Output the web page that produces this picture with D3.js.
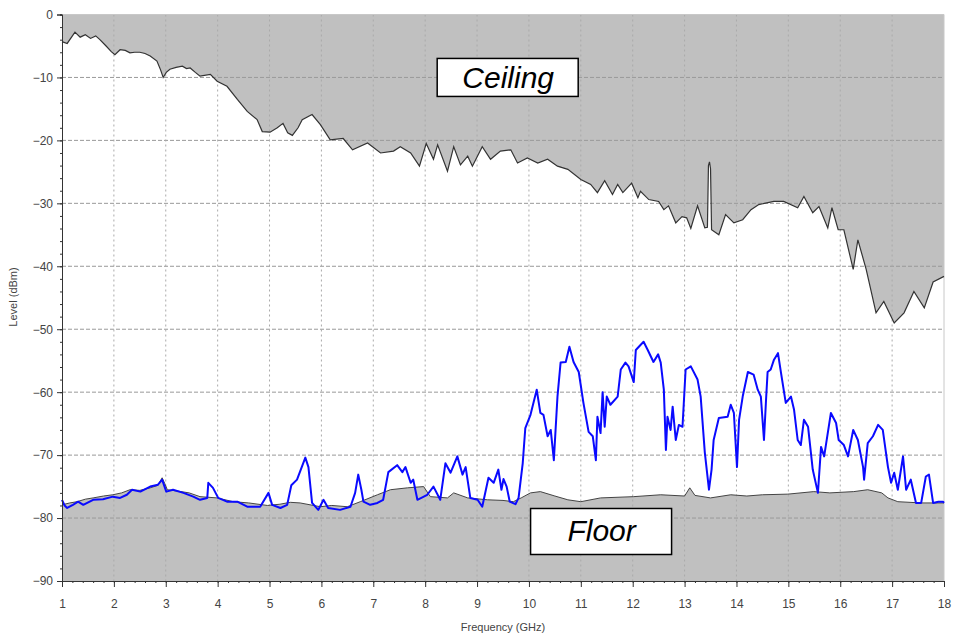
<!DOCTYPE html>
<html>
<head>
<meta charset="utf-8">
<script src="https://cdn.jsdelivr.net/npm/d3@7"></script>
<style>
  body { margin: 0; background: #fff; }
  svg { display: block; font-family: "Liberation Sans", Arial, sans-serif; }
</style>
</head>
<body>
<svg id="chart" width="954" height="636"></svg>
<script>
// spectrum traces: [frequency GHz, level dBm]
var ceiling = [
  [1.00,-4.3],[1.10,-4.6],[1.25,-2.8],[1.35,-3.6],[1.45,-3.2],[1.55,-3.8],[1.65,-3.4],[1.73,-4.0],
  [1.85,-5.0],[1.95,-5.9],[2.02,-6.4],[2.12,-5.6],[2.22,-5.7],[2.31,-6.1],[2.40,-6.0],[2.50,-6.0],
  [2.60,-6.2],[2.70,-6.6],[2.83,-7.4],[2.90,-8.8],[2.95,-10.0],[3.01,-9.2],[3.08,-8.7],[3.20,-8.4],
  [3.32,-8.2],[3.40,-8.6],[3.47,-8.5],[3.57,-9.2],[3.66,-9.8],[3.86,-9.5],[3.99,-10.6],[4.18,-11.4],
  [4.38,-13.5],[4.57,-15.4],[4.76,-16.7],[4.86,-18.6],[5.01,-18.7],[5.15,-18.0],[5.26,-17.3],[5.35,-18.8],
  [5.44,-19.2],[5.55,-18.0],[5.63,-16.7],[5.82,-15.9],[5.98,-17.5],[6.17,-19.9],[6.42,-19.7],[6.60,-21.5],
  [6.89,-20.4],[7.14,-22.0],[7.39,-21.7],[7.52,-21.0],[7.72,-22.0],[7.89,-24.1],[8.02,-20.5],[8.16,-23.0],
  [8.24,-20.7],[8.43,-24.9],[8.55,-21.0],[8.68,-23.9],[8.82,-22.5],[8.91,-24.1],[9.10,-21.0],[9.26,-23.0],
  [9.45,-21.7],[9.65,-21.5],[9.78,-23.6],[9.97,-22.8],[10.17,-23.6],[10.36,-23.0],[10.55,-24.1],[10.75,-24.6],
  [11.00,-26.2],[11.19,-27.0],[11.32,-28.3],[11.46,-26.4],[11.61,-28.6],[11.71,-27.0],[11.81,-28.3],[11.98,-26.8],
  [12.10,-29.1],[12.15,-28.1],[12.31,-29.4],[12.50,-29.7],[12.60,-31.0],[12.69,-30.4],[12.83,-33.1],[12.95,-32.1],
  [13.04,-32.3],[13.12,-34.0],[13.25,-30.4],[13.39,-33.9],[13.44,-33.8],[13.46,-24.0],[13.48,-23.4],[13.50,-24.5],
  [13.52,-34.2],[13.66,-35.0],[13.79,-31.8],[13.95,-33.1],[14.12,-32.6],[14.28,-31.0],[14.43,-30.2],[14.72,-29.7],
  [14.91,-29.7],[15.18,-30.7],[15.30,-28.9],[15.47,-31.5],[15.59,-30.5],[15.76,-33.9],[15.84,-30.7],[15.96,-34.2],
  [16.07,-34.2],[16.25,-40.5],[16.34,-35.8],[16.50,-40.5],[16.69,-47.4],[16.84,-45.6],[17.04,-49.0],[17.23,-47.4],
  [17.42,-44.0],[17.62,-46.6],[17.79,-42.5],[18.00,-41.6]
];

var floor = [
  [1.00,-77.9],[1.15,-77.6],[1.29,-77.4],[1.45,-77.0],[1.60,-76.8],[1.80,-76.5],[1.98,-76.3],[2.15,-76.0],
  [2.31,-75.5],[2.50,-75.6],[2.70,-75.2],[2.85,-74.8],[2.93,-73.6],[2.98,-74.5],[3.03,-75.5],[3.22,-75.7],
  [3.45,-76.0],[3.66,-76.6],[3.99,-76.8],[4.30,-77.4],[4.60,-77.6],[4.96,-78.0],[5.20,-77.8],[5.40,-77.5],
  [5.59,-77.6],[5.98,-78.2],[6.20,-78.0],[6.50,-78.2],[6.75,-77.4],[7.08,-76.3],[7.33,-75.5],[7.66,-75.2],
  [7.97,-75.0],[8.10,-76.6],[8.43,-76.8],[8.55,-76.0],[8.82,-76.8],[9.20,-77.1],[9.50,-77.2],[9.70,-77.4],
  [9.85,-76.8],[10.03,-76.0],[10.22,-75.8],[10.50,-76.5],[10.75,-77.1],[11.00,-77.4],[11.38,-76.8],[12.02,-76.6],
  [12.54,-76.3],[13.00,-76.5],[13.10,-75.2],[13.20,-76.4],[13.50,-76.8],[13.89,-76.3],[14.20,-76.5],[14.50,-76.3],
  [14.99,-76.2],[15.49,-75.8],[15.80,-76.0],[16.26,-75.8],[16.53,-75.5],[16.80,-76.0],[16.92,-76.8],[17.11,-77.4],
  [17.56,-77.6],[18.00,-77.6]
];

var measured = [
  [1.00,-77.1],[1.05,-78.0],[1.10,-78.4],[1.21,-77.9],[1.31,-77.4],[1.41,-77.9],[1.60,-77.1],[1.79,-77.0],
  [1.98,-76.6],[2.12,-76.8],[2.25,-76.3],[2.35,-75.5],[2.51,-75.8],[2.70,-75.0],[2.85,-74.7],[2.93,-73.9],
  [3.01,-75.8],[3.14,-75.5],[3.34,-76.0],[3.53,-76.6],[3.66,-77.1],[3.80,-76.8],[3.82,-74.4],[3.91,-75.2],
  [4.01,-76.8],[4.18,-77.4],[4.38,-77.4],[4.57,-78.2],[4.82,-78.2],[4.98,-76.0],[5.05,-77.9],[5.21,-78.4],
  [5.34,-77.9],[5.42,-74.8],[5.53,-73.9],[5.69,-70.4],[5.75,-71.9],[5.82,-77.6],[5.94,-78.7],[6.04,-77.1],
  [6.13,-78.4],[6.36,-78.7],[6.56,-78.2],[6.65,-76.0],[6.71,-73.1],[6.77,-75.5],[6.81,-77.4],[6.94,-77.9],
  [7.08,-77.6],[7.19,-77.1],[7.29,-72.7],[7.46,-71.6],[7.56,-72.7],[7.62,-71.9],[7.72,-74.4],[7.77,-73.9],
  [7.85,-77.1],[8.04,-76.3],[8.16,-75.0],[8.29,-77.1],[8.39,-71.3],[8.49,-72.8],[8.62,-70.2],[8.72,-73.1],
  [8.78,-71.9],[8.87,-76.8],[9.01,-77.1],[9.10,-78.2],[9.22,-73.6],[9.32,-74.4],[9.41,-72.3],[9.47,-75.5],
  [9.51,-73.8],[9.57,-75.0],[9.63,-77.4],[9.74,-77.8],[9.80,-76.8],[9.88,-71.3],[9.93,-65.7],[10.03,-63.6],
  [10.15,-59.6],[10.22,-63.3],[10.28,-63.6],[10.36,-67.0],[10.42,-66.0],[10.48,-70.8],[10.55,-60.7],[10.61,-55.3],
  [10.71,-55.2],[10.78,-52.8],[10.86,-55.2],[10.96,-56.8],[11.05,-61.7],[11.15,-66.3],[11.23,-67.0],[11.29,-70.8],
  [11.32,-63.9],[11.38,-66.5],[11.42,-60.0],[11.46,-65.5],[11.50,-60.7],[11.57,-62.0],[11.71,-60.7],[11.77,-56.4],
  [11.86,-55.3],[11.92,-55.9],[12.02,-58.4],[12.06,-53.3],[12.15,-52.5],[12.21,-52.0],[12.29,-53.3],[12.40,-55.2],
  [12.49,-54.0],[12.54,-55.3],[12.60,-59.6],[12.64,-69.2],[12.67,-63.9],[12.73,-66.0],[12.77,-62.3],[12.83,-67.6],
  [12.89,-65.2],[12.96,-65.5],[13.02,-56.4],[13.12,-55.9],[13.25,-58.0],[13.31,-60.7],[13.39,-69.6],[13.47,-75.5],
  [13.52,-72.3],[13.56,-67.6],[13.66,-64.1],[13.83,-63.9],[13.89,-62.0],[13.95,-63.3],[14.01,-71.9],[14.05,-64.4],
  [14.12,-60.7],[14.22,-56.8],[14.33,-57.2],[14.41,-59.6],[14.47,-60.7],[14.53,-67.6],[14.57,-61.2],[14.60,-56.8],
  [14.66,-56.4],[14.72,-54.9],[14.80,-53.8],[14.86,-57.0],[14.95,-61.7],[15.05,-60.7],[15.11,-62.8],[15.18,-67.6],
  [15.24,-68.4],[15.30,-64.4],[15.38,-65.5],[15.47,-72.3],[15.57,-76.0],[15.63,-68.7],[15.69,-70.2],[15.82,-63.3],
  [15.92,-64.9],[15.97,-67.6],[16.07,-68.4],[16.15,-70.2],[16.25,-66.0],[16.34,-67.6],[16.44,-71.9],[16.46,-73.9],
  [16.53,-68.1],[16.63,-67.0],[16.73,-65.2],[16.82,-66.0],[16.92,-71.9],[16.98,-74.4],[17.04,-72.8],[17.11,-75.5],
  [17.21,-70.2],[17.27,-75.5],[17.36,-73.9],[17.46,-77.6],[17.56,-77.6],[17.65,-73.4],[17.71,-73.1],[17.79,-77.6],
  [17.89,-77.4],[17.98,-77.4],[18.00,-77.6]
];

var xTicks = d3.range(1, 19);               // 1 .. 18 GHz
var yTicks = d3.range(0, -91, -10);         // 0 .. -90 dBm
var labels = [ { text: "Ceiling", f: 9.6, lv: -10 }, { text: "Floor", f: 11.4, lv: -81.5 } ];

var svg = d3.select( "#chart" );
var x = d3.scaleLinear().domain( [1,18] ).range( [62,944] );
var y = d3.scaleLinear().domain( [-90,0] ).range( [581,14.5] );

// grey shading above the ceiling and below the floor
svg.append( "path" ).datum( ceiling )
    .attr( "fill", "#c0c0c0" )
    .attr( "d", d3.area().x( d=>x(d[0]) ).y0( y(0) ).y1( d=>y(d[1]) ) );
svg.append( "path" ).datum( floor )
    .attr( "fill", "#c0c0c0" )
    .attr( "d", d3.area().x( d=>x(d[0]) ).y0( y(-90) ).y1( d=>y(d[1]) ) );

// grid: dashed horizontals, dotted verticals
svg.append( "g" ).selectAll( "line" ).data( yTicks.slice(1,-1) ).join( "line" )
    .attr( "x1", x(1) ).attr( "x2", x(18) )
    .attr( "y1", d=>y(d) ).attr( "y2", d=>y(d) )
    .attr( "stroke", "#999" ).attr( "stroke-dasharray", "4,2" );
svg.append( "g" ).selectAll( "line" ).data( xTicks.slice(1,-1) ).join( "line" )
    .attr( "x1", d=>x(d) ).attr( "x2", d=>x(d) )
    .attr( "y1", y(0) ).attr( "y2", y(-90) )
    .attr( "stroke", "#aaa" ).attr( "stroke-dasharray", "2,3" );

// light frame on top and right
svg.append( "path" )
    .attr( "d", "M" + x(1) + "," + y(0) + "H" + x(18) + "V" + y(-90) )
    .attr( "fill", "none" ).attr( "stroke", "#c8c8c8" );

// traces
var line = d3.line().x( d=>x(d[0]) ).y( d=>y(d[1]) );
svg.append( "path" ).datum( ceiling ).attr( "d", line )
    .attr( "fill", "none" ).attr( "stroke", "#333" ).attr( "stroke-width", 1.2 );
svg.append( "path" ).datum( floor ).attr( "d", line )
    .attr( "fill", "none" ).attr( "stroke", "#444" ).attr( "stroke-width", 1 );
svg.append( "path" ).datum( measured ).attr( "d", line )
    .attr( "fill", "none" ).attr( "stroke", "#0a0aff" ).attr( "stroke-width", 2 )
    .attr( "stroke-linejoin", "round" );

// axes: minor ticks first, then the labelled major ticks
svg.append( "g" ).attr( "transform", "translate(0," + y(-90) + ")" )
    .call( d3.axisBottom(x).tickValues( d3.range(1, 18.01, 0.2) ).tickSize(2).tickFormat( ()=>"" ) );
var gx = svg.append( "g" ).attr( "transform", "translate(0," + y(-90) + ")" )
    .call( d3.axisBottom(x).tickValues( xTicks ).tickSize(6).tickPadding(12) );
svg.append( "g" ).attr( "transform", "translate(" + x(1) + ",0)" )
    .call( d3.axisLeft(y).tickValues( d3.range(0, -91, -2) ).tickSize(2).tickFormat( ()=>"" ) );
var gy = svg.append( "g" ).attr( "transform", "translate(" + x(1) + ",0)" )
    .call( d3.axisLeft(y).tickValues( yTicks ).tickSize(5).tickPadding(4) );
svg.selectAll( ".domain" ).attr( "stroke", "#333" );
svg.selectAll( ".tick line" ).attr( "stroke", "#333" );
svg.selectAll( ".tick text" ).attr( "font-size", 12 ).attr( "fill", "#444" )
    .attr( "font-family", "'Liberation Sans', Arial, sans-serif" );

// axis titles
svg.append( "text" ).text( "Frequency (GHz)" )
    .attr( "x", 503 ).attr( "y", 631 ).attr( "text-anchor", "middle" )
    .attr( "font-size", 11 ).attr( "fill", "#444" );
svg.append( "text" ).text( "Level (dBm)" )
    .attr( "transform", "translate(17,297) rotate(-90)" ).attr( "text-anchor", "middle" )
    .attr( "font-size", 11 ).attr( "fill", "#444" );

// boxed annotations
labels.forEach( function(l) {
    var g = svg.append( "g" ).attr( "transform", "translate(" + x(l.f) + "," + y(l.lv) + ")" );
    g.append( "rect" ).attr( "x", -71 ).attr( "y", -19 ).attr( "width", 141 ).attr( "height", l.text == "Floor" ? 46 : 38 )
        .attr( "fill", "#fff" ).attr( "stroke", "#000" ).attr( "stroke-width", 1.5 );
    g.append( "text" ).text( l.text )
        .attr( "x", 0 ).attr( "y", l.text == "Floor" ? 14 : 11 ).attr( "text-anchor", "middle" )
        .attr( "font-size", 30 ).attr( "font-style", "italic" );
});
</script>
</body>
</html>
